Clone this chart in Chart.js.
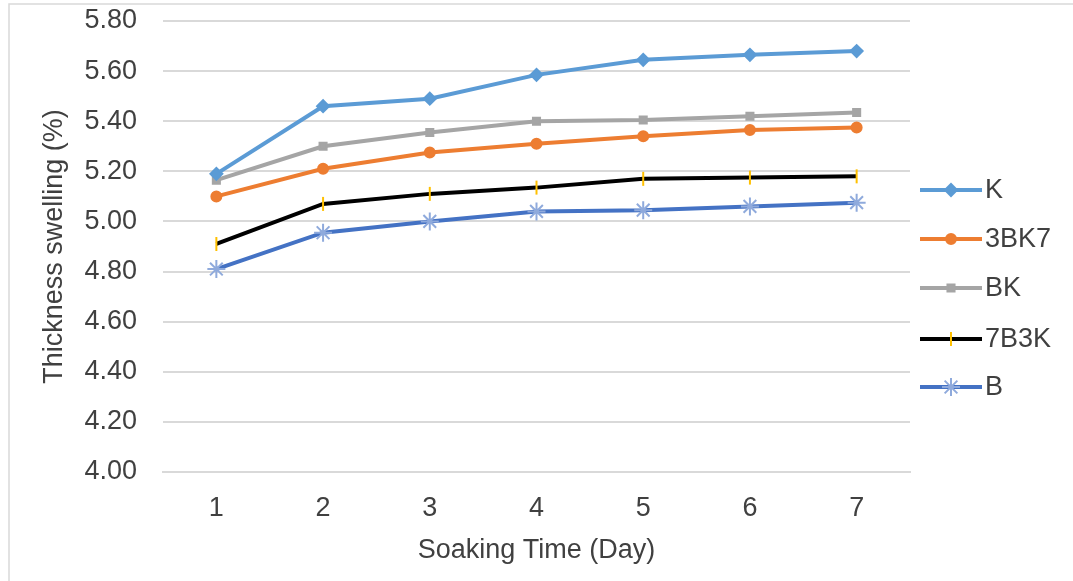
<!DOCTYPE html>
<html>
<head>
<meta charset="utf-8">
<script src="https://cdn.jsdelivr.net/npm/chart.js@4/dist/chart.umd.min.js"></script>
<style>
  html, body { margin: 0; padding: 0; background: #fff; }
  #wrap { width: 1073px; height: 581px; position: relative; }
</style>
</head>
<body>
<div id="wrap"><canvas id="myChart"></canvas></div>
<script>
// soaking days
const days = ["1", "2", "3", "4", "5", "6", "7"];
const yTicks = [4.0, 4.2, 4.4, 4.6, 4.8, 5.0, 5.2, 5.4, 5.6, 5.8];

// thickness swelling (%) per series
const seriesK    = [5.19, 5.46, 5.49, 5.585, 5.645, 5.665, 5.68];
const series3BK7 = [5.10, 5.21, 5.275, 5.31, 5.34, 5.365, 5.375];
const seriesBK   = [5.165, 5.30, 5.355, 5.40, 5.405, 5.42, 5.435];
const series7B3K = [4.91, 5.07, 5.11, 5.135, 5.17, 5.175, 5.18];
const seriesB    = [4.81, 4.955, 5.00, 5.04, 5.045, 5.06, 5.075];

const font = "'Liberation Sans', Arial, sans-serif";
const textColor = "#404040";

function makeSet(label, data, color, pointStyle, pointColor, radius, rotation) {
    return {
        label: label,
        data: data,
        borderColor: color,
        backgroundColor: pointColor,
        pointBorderColor: pointColor,
        pointBackgroundColor: pointColor,
        borderWidth: 4,
        pointStyle: pointStyle,
        pointRadius: radius,
        pointBorderWidth: 2,
        pointRotation: rotation || 0,
        tension: 0
    };
}

const datasets = [
    makeSet("K", seriesK, "#5B9BD5", "rectRot", "#5B9BD5", 6),
    makeSet("3BK7", series3BK7, "#ED7D31", "circle", "#ED7D31", 5),
    makeSet("BK", seriesBK, "#A5A5A5", "rect", "#A5A5A5", 5),
    makeSet("7B3K", series7B3K, "#000000", "line", "#FFC000", 7, 90),
    makeSet("B", seriesB, "#4472C4", "star", "#8FAADC", 9)
];

// legend drawn by hand: line + marker like the office chart
const sideLegend = {
    id: "sideLegend",
    afterDraw(chart) {
        const ctx = chart.ctx;
        const rows = [190, 239, 288, 339, 387];
        chart.data.datasets.forEach((ds, i) => {
            const y = rows[i];
            ctx.save();
            ctx.strokeStyle = ds.borderColor;
            ctx.lineWidth = 4;
            ctx.beginPath();
            ctx.moveTo(920, y);
            ctx.lineTo(982, y);
            ctx.stroke();
            ctx.fillStyle = ds.pointBackgroundColor;
            ctx.strokeStyle = ds.pointBorderColor;
            ctx.lineWidth = 2;
            Chart.helpers.drawPoint(ctx, {
                pointStyle: ds.pointStyle,
                radius: ds.pointRadius,
                rotation: ds.pointRotation,
                borderWidth: 2
            }, 951, y);
            ctx.fillStyle = textColor;
            ctx.font = "27px " + font;
            ctx.textBaseline = "middle";
            ctx.textAlign = "left";
            ctx.fillText(ds.label, 985, y + 1);
            ctx.restore();
        });
    }
};

const frame = {
    id: "frame",
    beforeDraw(chart) {
        const ctx = chart.ctx;
        ctx.save();
        ctx.fillStyle = "#fff";
        ctx.fillRect(0, 0, chart.width, chart.height);
        ctx.strokeStyle = "#d9d9d9";
        ctx.lineWidth = 1.5;
        ctx.strokeRect(9, 4, chart.width + 20, chart.height + 20);
        ctx.restore();
    }
};

new Chart("myChart", {
    type: "line",
    data: {
        labels: days,
        datasets: datasets
    },
    plugins: [frame, sideLegend],
    options: {
        responsive: true,
        maintainAspectRatio: false,
        animation: false,
        layout: {
            padding: { left: 10, right: 163, top: 21, bottom: 0 }
        },
        plugins: {
            legend: { display: false },
            tooltip: { enabled: false }
        },
        scales: {
            x: {
                offset: true,
                grid: { display: false, drawTicks: false },
                border: { display: true, color: "#d9d9d9", width: 2 },
                ticks: { color: textColor, font: { family: font, size: 27 }, padding: 20 },
                title: {
                    display: true,
                    text: "Soaking Time (Day)",
                    color: textColor,
                    font: { family: font, size: 27 },
                    padding: { top: 0, bottom: 14 }
                },
                afterFit(scale) { scale.height = 109; }
            },
            y: {
                min: 4.0,
                max: 5.8,
                afterBuildTicks(scale) {
                    scale.ticks = yTicks.map(v => ({ value: v }));
                },
                grid: { color: "#d9d9d9", lineWidth: 2, drawTicks: false },
                border: { display: false },
                ticks: {
                    color: textColor,
                    font: { family: font, size: 27 },
                    padding: 26,
                    callback: v => Number(v).toFixed(2)
                },
                title: {
                    display: true,
                    text: "Thickness swelling (%)",
                    color: textColor,
                    font: { family: font, size: 27 },
                    padding: { top: 28, bottom: 0 }
                },
                afterFit(scale) {
                    scale.width = 153;
                    // tick padding gets added on top otherwise
                    scale.paddingTop = 0;
                    scale.paddingBottom = 0;
                }
            }
        }
    }
});
</script>
</body>
</html>
